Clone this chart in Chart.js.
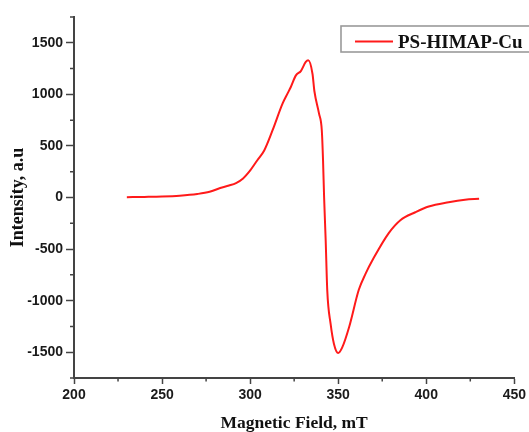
<!DOCTYPE html>
<html>
<head>
<meta charset="utf-8">
<script src="https://cdn.jsdelivr.net/npm/chart.js@4"></script>
<style>
html,body{margin:0;padding:0;background:#fff;}
#wrap{width:529px;height:432px;position:relative;}
</style>
</head>
<body>
<div id="wrap"><canvas id="c" width="529" height="432"></canvas></div>
<script>
const seriesLabel = 'PS-HIMAP-Cu';
const field = [230, 240, 250, 260, 270, 277, 283, 288, 292, 296, 299.5, 304, 308, 312.7, 318.4, 321.2, 323.1, 326, 328.8, 331.6, 333, 335.4, 336.5, 339.1, 340.7, 341.4, 342, 342.9, 343.8, 345.7, 347.6, 350, 352.3, 356.3, 361.7, 365.5, 370.2, 378.7, 385.3, 393.8, 401.4, 412.7, 422, 430];
const intensity = [3, 6, 10, 18, 34, 55, 92, 116, 140, 185, 250, 359, 456, 650, 910, 1007, 1071, 1184, 1226, 1314, 1330, 1200, 1030, 815, 650, 359, 3, -417, -903, -1226, -1420, -1508, -1453, -1250, -895, -741, -585, -345, -220, -143, -87, -46, -22, -13];
const xTicks = [200, 250, 300, 350, 400, 450];
const yTicks = [-1500, -1000, -500, 0, 500, 1000, 1500];
const xMinorTicks = [225, 275, 325, 375, 425];
const yMinorTicks = [-1750, -1250, -750, -250, 250, 750, 1250, 1750];
const xTitle = 'Magnetic Field, mT';
const yTitle = 'Intensity, a.u';

const axisColor = '#444';

const minorTicks = {
  id: 'minorTicks',
  afterDraw(chart) {
    const ctx = chart.ctx;
    const xs = chart.scales.x, ys = chart.scales.y;
    const ca = chart.chartArea;
    ctx.save();
    ctx.strokeStyle = axisColor;
    ctx.lineWidth = 1.5;
    ctx.beginPath();
    yMinorTicks.forEach(v => {
      const p = ys.getPixelForValue(v);
      ctx.moveTo(ca.left - 4, p); ctx.lineTo(ca.left, p);
    });
    xMinorTicks.forEach(v => {
      const p = xs.getPixelForValue(v);
      ctx.moveTo(p, ca.bottom); ctx.lineTo(p, ca.bottom + 3.5);
    });
    ctx.stroke();
    ctx.restore();
  }
};

const boxLegend = {
  id: 'boxLegend',
  afterDraw(chart) {
    const ctx = chart.ctx;
    const ds = chart.data.datasets[0];
    ctx.save();
    ctx.strokeStyle = '#9a9a9a';
    ctx.lineWidth = 1.6;
    ctx.strokeRect(341, 26, 200, 26);
    ctx.strokeStyle = ds.borderColor;
    ctx.lineWidth = 2;
    ctx.beginPath();
    ctx.moveTo(355, 41.5); ctx.lineTo(393, 41.5);
    ctx.stroke();
    ctx.fillStyle = '#111';
    ctx.font = 'bold 19px "Liberation Serif", "Times New Roman", serif';
    ctx.textBaseline = 'alphabetic';
    ctx.fillText(ds.label, 398, 48);
    ctx.restore();
  }
};

const tickFont = {family: '"Liberation Sans", Arial, sans-serif', weight: 'bold', size: 14};

new Chart(document.getElementById('c'), {
  type: 'line',
  data: {
    datasets: [{
      label: seriesLabel,
      data: field.map((f, i) => ({x: f, y: intensity[i]})),
      borderColor: '#ff1a1a',
      borderWidth: 2,
      pointRadius: 0,
      fill: false,
      cubicInterpolationMode: 'monotone'
    }]
  },
  options: {
    responsive: false,
    animation: false,
    layout: {padding: {top: 17, right: 13, left: 0, bottom: 0}},
    plugins: {legend: {display: false}, tooltip: {enabled: false}},
    scales: {
      x: {
        type: 'linear',
        min: 200, max: 450,
        afterFit(s) { s.height = 54; },
        afterBuildTicks(s) { s.ticks = xTicks.map(v => ({value: v})); },
        border: {display: true, color: axisColor, width: 2},
        grid: {drawOnChartArea: false, drawTicks: true, tickLength: 6, tickColor: axisColor, tickWidth: 1.5},
        ticks: {padding: 3, color: '#1a1a1a', font: tickFont, maxRotation: 0, callback: v => String(v)},
        title: {display: true, text: xTitle, color: '#111', padding: {top: 0, bottom: 0}, font: {family: '"Liberation Serif", "Times New Roman", serif', weight: 'bold', size: 17.5, lineHeight: 1}}
      },
      y: {
        type: 'linear',
        min: -1750, max: 1750,
        afterFit(s) { s.width = 74; },
        afterBuildTicks(s) { s.ticks = yTicks.map(v => ({value: v})); },
        border: {display: true, color: axisColor, width: 2},
        grid: {drawOnChartArea: false, drawTicks: true, tickLength: 8, tickColor: axisColor, tickWidth: 1.5},
        ticks: {padding: 3, color: '#1a1a1a', font: tickFont, callback: v => String(v)},
        title: {display: true, text: yTitle, color: '#111', padding: {top: 9, bottom: 0}, font: {family: '"Liberation Serif", "Times New Roman", serif', weight: 'bold', size: 18, lineHeight: 1}}
      }
    }
  },
  plugins: [minorTicks, boxLegend]
});
</script>
</body>
</html>
